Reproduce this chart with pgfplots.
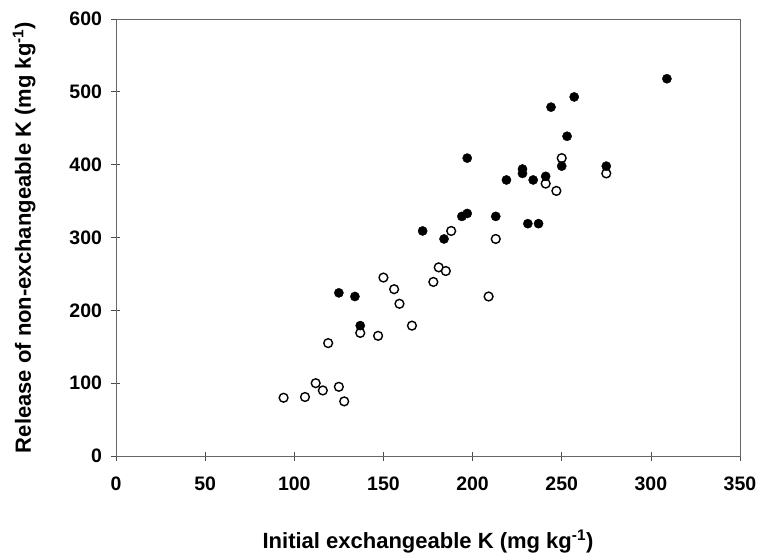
\documentclass[border=0pt]{standalone}
\usepackage{fontspec}
\setmainfont{Liberation Sans}
\usepackage{pgfplots}
\pgfplotsset{compat=1.18}

\begin{document}
\begin{tikzpicture}
\useasboundingbox (-116pt,-102pt) rectangle (642pt,456pt);
\begin{axis}[scale only axis, width=624pt, height=437pt, anchor=origin, at={(0,0)},
  xmin=0, xmax=350, ymin=0, ymax=600,
  xtick={0,50,...,350}, ytick={0,100,...,600},
  axis line style={gray!80!black, line width=0.8pt},
  tick style={gray!60!black, line width=0.7pt},
  tick align=center, major tick length=9pt,
  xtick pos=bottom, ytick pos=left,
  /pgf/number format/assume math mode=true,
  tick label style={font=\fontsize{19.5}{22}\selectfont\bfseries},
  label style={font=\fontsize{22}{26}\selectfont\bfseries},
  xticklabel style={yshift=-13pt}, yticklabel style={xshift=-6pt},
  xlabel={Initial exchangeable K (mg kg\textsuperscript{-1})},
  ylabel={Release of non-exchangeable K (mg kg\textsuperscript{-1})},
  xlabel style={at={(0.5,0)}, anchor=base, yshift=-92pt},
  ylabel style={at={(0,0.5)}, anchor=base, rotate=0, yshift=85pt}]
% open symbols
\addplot[only marks, mark=*, mark size=4.4pt, mark options={fill=white, draw=black, line width=1.4pt}]
coordinates {(94,80)(106,81)(112,100)(116,90)(125,95)(128,75)(119,155)(137,169)
(147,165)(150,245)(156,229)(159,209)(166,179)(178,239)(181,259)(185,254)(188,309)
(209,219)(213,298)(241,374)(247,364)(250,409)(275,388)};
% filled symbols
\addplot[only marks, mark=*, mark size=4.6pt, mark options={fill=black, draw=black}]
coordinates {(125,224)(134,219)(137,179)(172,309)(184,298)(194,329)(197,333)(197,409)
(213,329)(219,379)(228,394)(228,388)(231,319)(237,319)(234,379)(241,384)(244,479)
(250,398)(253,439)(257,493)(275,398)(309,518)};
\end{axis}
\end{tikzpicture}
\end{document}
